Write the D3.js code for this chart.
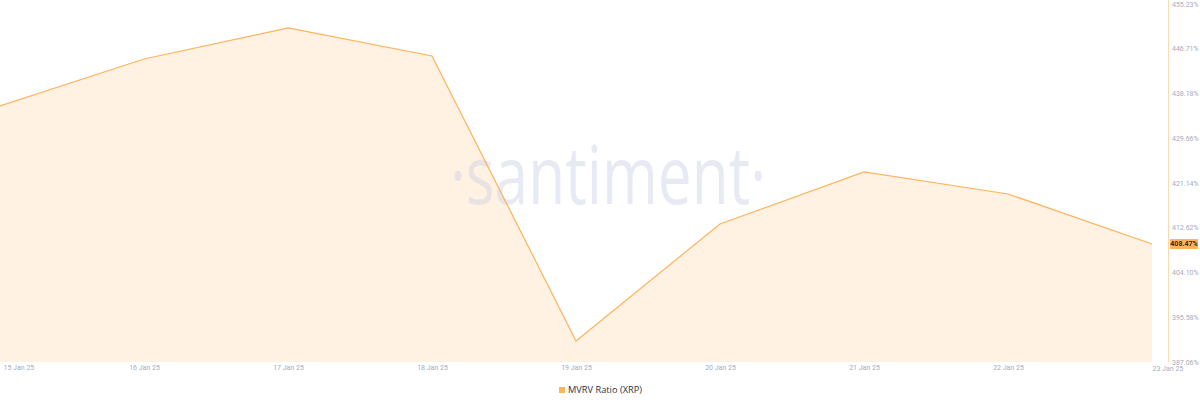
<!DOCTYPE html>
<html><head><meta charset="utf-8">
<script src="https://cdn.jsdelivr.net/npm/d3@7"></script>
<style>html,body{margin:0;padding:0;background:#fff;}svg{display:block;}</style>
</head><body><svg id="c" width="1200" height="406"></svg>
<script>
const dates = ["2025-01-15","2025-01-16","2025-01-17","2025-01-18","2025-01-19","2025-01-20","2025-01-21","2025-01-22","2025-01-23"];
const mvrv = [434.75, 443.69, 449.60, 444.27, 390.00, 412.28, 422.18, 417.99, 408.47];
const yTicks = [387.06, 395.58, 404.10, 412.62, 421.14, 429.66, 438.18, 446.71, 455.23];
const seriesName = "MVRV Ratio (XRP)";
const lastLabel = "408.47%";

const parse = d3.utcParse("%Y-%m-%d");
const data = dates.map((d,i)=>({date:parse(d), v:mvrv[i]}));
const svg = d3.select("#c");
const plotBottom = 362, axisX = 1168;
const tickFont = "Roboto, 'Open Sans', sans-serif";

const x = d3.scaleUtc().domain(d3.extent(data,d=>d.date)).range([0,1152]);
const y = d3.scaleLinear().domain([387.06,455.23]).range([356.4,-1.6]);

const area = d3.area().x(d=>x(d.date)).y0(plotBottom).y1(d=>y(d.v));
const line = d3.line().x(d=>x(d.date)).y(d=>y(d.v));

svg.append("path").datum(data).attr("d",area).attr("fill","#fff2e3");

// watermark
svg.append("text").attr("x",608).attr("y",204).attr("text-anchor","middle")
  .attr("font-family","'Open Sans', sans-serif").attr("font-weight",400)
  .attr("font-size",80).attr("fill","#c6cbe0").attr("fill-opacity",0.4)
  .attr("textLength",316).attr("lengthAdjust","spacingAndGlyphs")
  .text("·santiment·");

svg.append("path").datum(data).attr("d",line).attr("fill","none")
  .attr("stroke","#ffb35c").attr("stroke-width",1.2);

// right axis line
svg.append("line").attr("x1",axisX+0.5).attr("x2",axisX+0.5).attr("y1",0).attr("y2",plotBottom)
  .attr("stroke","#fbd9b2").attr("stroke-width",1);

// y axis
const yAxis = d3.axisRight(y).tickValues(yTicks).tickSize(0).tickPadding(0)
  .tickFormat(d=>d3.format(".2f")(d)+"%");
const gy = svg.append("g").attr("transform",`translate(${axisX+4},5.5)`).call(yAxis);
gy.select(".domain").remove();
gy.selectAll("text").attr("font-family",tickFont).attr("font-size",7)
  .attr("fill","#a3acc2").attr("dy","0.32em");

// last value badge
const ly = y(mvrv[mvrv.length-1]);
svg.append("rect").attr("x",1170).attr("y",ly-5).attr("width",28).attr("height",10)
  .attr("fill","#ffb35c").attr("rx",1);
svg.append("text").attr("x",1184).attr("y",ly).attr("dy","0.35em").attr("text-anchor","middle")
  .attr("font-family",tickFont).attr("font-size",7).attr("font-weight",700)
  .attr("fill","#3a2a10").text(lastLabel);

// x axis
const fmt = d3.utcFormat("%-d %b %y");
const xAxis = d3.axisBottom(x).tickValues(data.map(d=>d.date)).tickSize(0).tickPadding(0).tickFormat(fmt);
const gx = svg.append("g").attr("transform",`translate(0,368)`).call(xAxis);
gx.select(".domain").remove();
gx.selectAll("text").attr("font-family",tickFont).attr("font-size",7)
  .attr("fill","#a3acc2").attr("dy","0.32em");
const n = data.length;
gx.selectAll("text").each(function(d,i){
  if(i===0) d3.select(this).attr("text-anchor","start").attr("x",3);
  if(i===n-1) d3.select(this).attr("text-anchor","start").attr("x",0).attr("y",1);
});

// legend
const lg = svg.append("g").attr("transform","translate(559,390)");
lg.append("rect").attr("x",0).attr("y",-3).attr("width",6).attr("height",6).attr("fill","#ffb35c");
lg.append("text").attr("x",9).attr("y",0).attr("dy","0.35em")
  .attr("font-family","'Open Sans', sans-serif").attr("font-size",9.5).attr("fill","#2f3442")
  .attr("textLength",74).attr("lengthAdjust","spacingAndGlyphs")
  .text(seriesName);
</script></body></html>
